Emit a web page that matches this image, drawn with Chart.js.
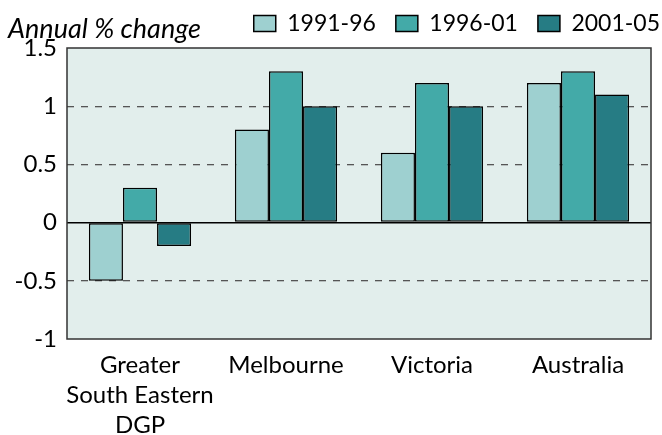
<!DOCTYPE html>
<html>
<head>
<meta charset="utf-8">
<script src="https://cdn.jsdelivr.net/npm/chart.js@4/dist/chart.umd.min.js"></script>
<style>
html,body{margin:0;padding:0;background:#fff;}
#wrap{width:662px;height:435px;position:relative;}
</style>
</head>
<body>
<div id="wrap"><canvas id="c" width="662" height="435"></canvas></div>
<script>
const categories = [["Greater","South Eastern","DGP"], "Melbourne", "Victoria", "Australia"];
const seriesNames = ["1991-96", "1996-01", "2001-05"];
const values1991_96 = [-0.5, 0.8, 0.6, 1.2];
const values1996_01 = [0.3, 1.3, 1.2, 1.3];
const values2001_05 = [-0.2, 1.0, 1.0, 1.1];
const yTicks = [-1, -0.5, 0, 0.5, 1, 1.5];
const colors = ["#9ed0d0", "#43aaa8", "#267c84"];
const FONT = "Lato, 'Open Sans', sans-serif";

const framePlugin = {
  id: 'frame',
  beforeDraw(chart) {
    const {ctx, chartArea: a} = chart;
    ctx.save();
    ctx.fillStyle = '#e2eeec';
    ctx.fillRect(a.left, a.top, a.right - a.left, a.bottom - a.top);
    ctx.restore();
  },
  afterDraw(chart) {
    const {ctx, chartArea: a} = chart;
    ctx.save();
    ctx.strokeStyle = '#333';
    ctx.lineWidth = 1.5;
    ctx.strokeRect(a.left, a.top, a.right - a.left, a.bottom - a.top);
    ctx.font = "italic 27px " + FONT;
    ctx.fillStyle = '#000';
    ctx.textBaseline = 'alphabetic';
    ctx.fillText("Annual % change", 8, 38);
    ctx.restore();
  }
};

new Chart(document.getElementById('c'), {
  type: 'bar',
  data: {
    labels: categories,
    datasets: [values1991_96, values1996_01, values2001_05].map((d, i) => ({
      label: seriesNames[i],
      data: d,
      backgroundColor: colors[i],
      borderColor: '#000',
      borderWidth: 1.5,
      borderSkipped: false,
      barPercentage: 1.0,
      categoryPercentage: 0.7
    }))
  },
  options: {
    responsive: false,
    animation: false,
    layout: { padding: { left: 0, right: -18, top: -8, bottom: 0 } },
    plugins: {
      legend: {
        position: 'top',
        align: 'end',
        labels: {
          font: { family: FONT, size: 23 },
          color: '#000',
          boxWidth: 22,
          boxHeight: 16,
          padding: 20
        }
      },
      tooltip: { enabled: false }
    },
    scales: {
      x: {
        grid: { display: false },
        border: { display: false },
        afterFit(s) { s.height = 96; },
        ticks: {
          color: '#000',
          font: { family: FONT, size: 24, lineHeight: 30 / 24 },
          maxRotation: 0,
          autoSkip: false,
          padding: 3
        }
      },
      xTopSpacer: {
        type: 'category',
        position: 'top',
        display: true,
        grid: { display: false },
        border: { display: false },
        ticks: { display: false },
        afterFit(s) { s.height = 3; }
      },
      y: {
        min: yTicks[0],
        max: yTicks[yTicks.length - 1],
        afterBuildTicks(scale) { scale.ticks = yTicks.map(v => ({ value: v })); },
        afterFit(s) { s.width = 67; },
        grid: {
          color: c => (c.tick && (c.tick.value === 0)) ? '#000' : ((c.tick && (c.tick.value === 1.5 || c.tick.value === -1)) ? 'rgba(0,0,0,0)' : '#555'),
          lineWidth: c => (c.tick && c.tick.value === 0) ? 1.5 : 1.3,
          drawTicks: false
        },
        border: {
          display: false,
          dash: c => (c.tick && c.tick.value === 0) ? [] : [7, 7]
        },
        ticks: {
          color: '#000',
          font: { family: FONT, size: 24 },
          padding: 10,
          callback: v => String(v)
        }
      },
      yRightSpacer: {
        type: 'linear',
        position: 'right',
        display: true,
        grid: { display: false },
        border: { display: false },
        ticks: { display: false },
        afterFit(s) { s.width = 29; }
      }
    }
  },
  plugins: [framePlugin]
});
</script>
</body>
</html>
